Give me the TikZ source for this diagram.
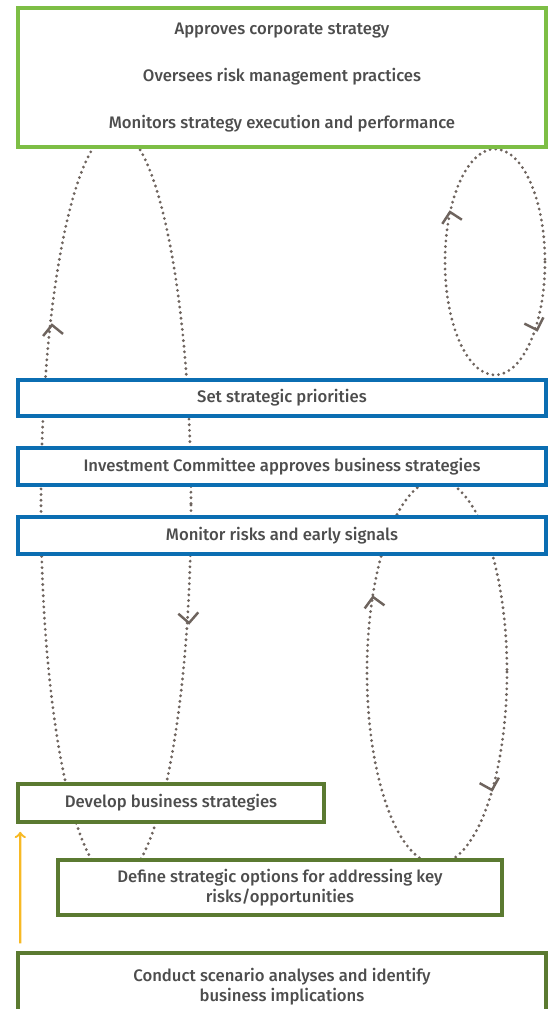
\documentclass[tikz,border=0pt]{standalone}
\usepackage{fontspec}
\setmainfont{Fira Sans}[BoldFont={* Medium}]
\usepackage{tikz}
\usetikzlibrary{calc}

\definecolor{lgreen}{HTML}{7DBE45}
\definecolor{dgreen}{HTML}{5B7A31}
\definecolor{sblue}{HTML}{0B6EB2}
\definecolor{dotgrey}{HTML}{6E645E}
\definecolor{txtgrey}{HTML}{4D4D4D}
\definecolor{ylw}{HTML}{F7B924}

\tikzset{
    box/.style={draw, line width=2pt, fill=white, text=txtgrey, font=\bfseries\fontsize{9.5}{11.5}\selectfont, align=center, inner sep=0pt},
    loopline/.style={dotgrey, line width=1.8pt, line cap=round, dash pattern=on 0pt off 3.2pt},
    chev/.style={dotgrey, line width=1.4pt, line join=miter},
}
\newcommand{\chevron}[3]{\draw[chev, shift={(#1,#2)}, rotate=#3] (-10,10) -- (0,0) -- (10,10);}

\begin{document}
\begin{tikzpicture}[x=0.02cm, y=-0.02cm]
        \useasboundingbox (0,0) rectangle (550,1009);
        % loops behind the boxes
        \draw[loopline] (116,505) ellipse [x radius=75, y radius=375];
        \draw[loopline] (495,262) ellipse [x radius=50, y radius=113];
        \draw[loopline] (437,672) ellipse [x radius=70, y radius=192];
        \chevron{52}{325}{6}
        \chevron{189}{623}{184}
        \chevron{450}{212}{12}
        \chevron{537}{330}{198}
        \chevron{373}{597}{9}
        \chevron{492}{790}{196}

        \node[box, draw=lgreen, minimum width=10.56cm, minimum height=2.78cm] (board) at (282,77.5)
            {Approves corporate strategy\\[15.5pt]Oversees risk management practices\\[15.5pt]Monitors strategy execution and performance};
        \node[box, draw=sblue, minimum width=10.56cm, minimum height=0.72cm] (prio) at (282,398) {Set strategic priorities};
        \node[box, draw=sblue, minimum width=10.56cm, minimum height=0.74cm] (invest) at (282,466.5) {Investment Committee approves business strategies};
        \node[box, draw=sblue, minimum width=10.56cm, minimum height=0.74cm] (monitor) at (282,535.5) {Monitor risks and early signals};
        \node[box, draw=dgreen, minimum width=6.12cm, minimum height=0.76cm] (develop) at (171,803) {Develop business strategies};
        \node[box, draw=dgreen, minimum width=8.88cm, minimum height=1.1cm] (define) at (280,887.5)
            {Define strategic options for addressing key\\risks/opportunities};
        \node[box, draw=dgreen, minimum width=10.56cm, minimum height=1.34cm] (conduct) at (282,986.5)
            {Conduct scenario analyses and identify\\business implications};

        \draw[ylw, line width=1.3pt] [->] ($(conduct.north west)+(4,-8)$) -- ($(develop.south west)+(4,8)$);
    \end{tikzpicture}
\end{document}
